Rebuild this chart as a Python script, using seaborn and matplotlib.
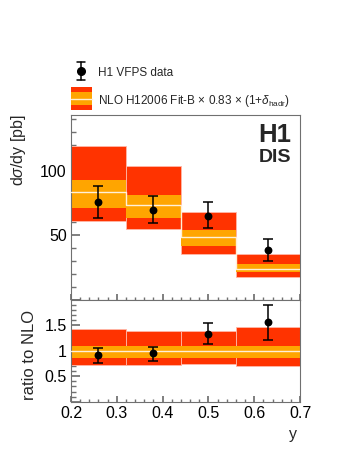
import numpy as np
import pandas as pd
import matplotlib
matplotlib.use('Agg')
import matplotlib.pyplot as plt
import seaborn as sns
from matplotlib.patches import Rectangle
from matplotlib.ticker import MultipleLocator

# y bins
bin_lo = [0.20, 0.32, 0.44, 0.56]
bin_hi = [0.32, 0.44, 0.56, 0.70]
y_points = [0.26, 0.38, 0.50, 0.63]

# H1 VFPS data, dsigma/dy [pb]
xs_data = [75.9, 69.8, 65.2, 38.5]
xs_up = [88.0, 80.5, 75.4, 46.9]
xs_dn = [63.6, 59.5, 55.4, 30.0]

# NLO H12006 Fit-B prediction
nlo_central = [83.8, 73.6, 49.0, 24.2]
nlo_inner_lo = [71.0, 63.4, 42.1, 21.5]
nlo_inner_hi = [93.1, 81.5, 54.2, 27.5]
nlo_outer_lo = [61.1, 54.6, 35.9, 17.7]
nlo_outer_hi = [119.2, 103.4, 68.2, 35.9]

# ratio to NLO
ratio_data = [0.91, 0.95, 1.34, 1.56]
ratio_up = [1.05, 1.08, 1.54, 1.90]
ratio_dn = [0.76, 0.81, 1.14, 1.22]
ratio_central = [1.0, 1.0, 1.0, 1.0]
ratio_inner_lo = [0.85, 0.85, 0.85, 0.85]
ratio_inner_hi = [1.105, 1.105, 1.105, 1.105]
ratio_outer_lo = [0.72, 0.73, 0.74, 0.70]
ratio_outer_hi = [1.42, 1.40, 1.40, 1.46]

RED = '#ff3300'
ORANGE = '#ffa500'
PALE = '#fff0d8'
FRAME = '#707070'

sns.set_theme(style='ticks')
plt.rcParams['font.family'] = ['Liberation Sans', 'DejaVu Sans']
plt.rcParams['mathtext.fontset'] = 'custom'
plt.rcParams['mathtext.rm'] = 'Liberation Sans'
plt.rcParams['mathtext.it'] = 'Liberation Sans:italic'
plt.rcParams['mathtext.sf'] = 'Liberation Sans'


def draw_bands(ax, olo, ohi, ilo, ihi, cen):
    lo = np.array(bin_lo)
    w = np.array(bin_hi) - lo
    ax.bar(lo, np.array(ohi) - np.array(olo), width=w, bottom=olo, align='edge',
           color=RED, edgecolor='#ffb8a8', linewidth=0.6, zorder=1)
    ax.bar(lo, np.array(ihi) - np.array(ilo), width=w, bottom=ilo, align='edge',
           color=ORANGE, linewidth=0, zorder=2)
    ax.step(list(bin_lo) + [bin_hi[-1]], list(cen) + [cen[-1]], where='post',
            color=PALE, lw=1.0, zorder=3)


def draw_points(ax, val, up, dn):
    val = np.array(val)
    ax.errorbar(y_points, val, yerr=[val - np.array(dn), np.array(up) - val],
                fmt='none', ecolor='black', elinewidth=1.1, capsize=3.8,
                capthick=1.1, zorder=4)
    df = pd.DataFrame({'y': y_points, 'v': val})
    sns.scatterplot(data=df, x='y', y='v', ax=ax, color='black', s=32,
                    edgecolor='black', linewidth=0, zorder=5, legend=False)


def style_axis(ax):
    for sp in ax.spines.values():
        sp.set_color(FRAME)
        sp.set_linewidth(0.8)
    ax.tick_params(which='both', direction='in', left=True, bottom=True,
                   top=False, right=False, color=FRAME, labelsize=11.5,
                   labelcolor='black', pad=3)
    ax.tick_params(axis='y', which='major', length=6.5)
    ax.tick_params(axis='y', which='minor', length=3.5)
    ax.tick_params(axis='x', which='major', length=4.5)
    ax.tick_params(axis='x', which='minor', length=2.5)
    ax.set_xlim(0.2, 0.7)
    ax.xaxis.set_major_locator(MultipleLocator(0.1))
    ax.xaxis.set_minor_locator(MultipleLocator(0.02))
    ax.set_xlabel('')
    ax.set_ylabel('')


fig = plt.figure(figsize=(3.49, 4.51), dpi=100)
ax_top = fig.add_axes([0.2034, 0.3348, 0.6562, 0.4102])
ax_rat = fig.add_axes([0.2034, 0.1093, 0.6562, 0.2255])

# top panel
draw_bands(ax_top, nlo_outer_lo, nlo_outer_hi, nlo_inner_lo, nlo_inner_hi, nlo_central)
draw_points(ax_top, xs_data, xs_up, xs_dn)
style_axis(ax_top)
ax_top.set_ylim(0, 143)
ax_top.set_yticks([0, 50, 100], labels=['', '50', '100'])
ax_top.yaxis.set_minor_locator(MultipleLocator(10))
ax_top.tick_params(axis='x', labelbottom=False)
ax_top.text(0.961, 0.856, 'H1', transform=ax_top.transAxes, ha='right',
            va='baseline', fontsize=18.5, fontweight='bold')
ax_top.text(0.961, 0.748, 'DIS', transform=ax_top.transAxes, ha='right',
            va='baseline', fontsize=14, fontweight='bold')

# ratio panel
draw_bands(ax_rat, ratio_outer_lo, ratio_outer_hi, ratio_inner_lo, ratio_inner_hi, ratio_central)
draw_points(ax_rat, ratio_data, ratio_up, ratio_dn)
style_axis(ax_rat)
ax_rat.set_ylim(0, 2)
ax_rat.set_yticks([0, 0.5, 1, 1.5, 2], labels=['', '0.5', '1', '1.5', ''])
ax_rat.yaxis.set_minor_locator(MultipleLocator(0.1))
ax_rat.set_xticks([0.2, 0.3, 0.4, 0.5, 0.6, 0.7],
                  labels=['0.2', '0.3', '0.4', '0.5', '0.6', '0.7'])

# axis titles
fig.text(18 / 349, 1 - 150 / 451, r'd$\sigma$/dy [pb]', rotation=90,
         ha='center', va='center', fontsize=11.5)
fig.text(29 / 349, 1 - 355 / 451, 'ratio to NLO', rotation=90,
         ha='center', va='center', fontsize=12)
fig.text(293 / 349, 1 - 435 / 451, 'y', ha='center', va='center', fontsize=11.5)

# legend drawn in pixel coordinates
lax = fig.add_axes([0, 0, 1, 1], zorder=-1)
lax.set_xlim(0, 349)
lax.set_ylim(451, 0)
lax.axis('off')
lax.plot([81, 81], [61.7, 80], color='black', lw=1.1)
lax.plot([77, 85], [61.7, 61.7], color='black', lw=1.1)
lax.plot([77, 85], [80, 80], color='black', lw=1.1)
lax.plot([81], [70.5], 'o', color='black', ms=5.5)
lax.add_patch(Rectangle((71, 86.7), 20.7, 23.3, color=RED, lw=0))
lax.add_patch(Rectangle((71, 92.3), 20.7, 12.7, color=ORANGE, lw=0))
lax.plot([71, 91.7], [98.5, 98.5], color=PALE, lw=1.0)
fig.text(98 / 349, 1 - 76 / 451, 'H1 VFPS data', ha='left', va='baseline', fontsize=8.5)
fig.text(98 / 349, 1 - 104 / 451,
         r'NLO H12006 Fit-B $\times$ 0.83 $\times$ (1+$\delta_{\mathrm{hadr}}$)',
         ha='left', va='baseline', fontsize=8.5)

fig.savefig('out.png', dpi=100)
